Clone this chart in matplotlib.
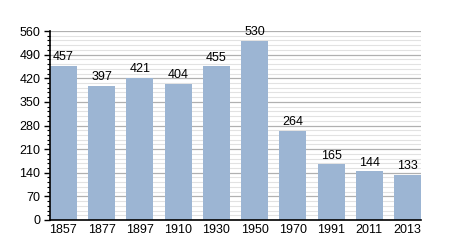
import matplotlib.pyplot as plt
from matplotlib.ticker import MultipleLocator

plt.rcParams["font.family"] = ["Liberation Sans", "DejaVu Sans"]

years = ["1857", "1877", "1897", "1910", "1930", "1950", "1970", "1991", "2011", "2013"]
population = [457, 397, 421, 404, 455, 530, 264, 165, 144, 133]

fig = plt.figure(figsize=(4.5, 2.5), dpi=100)
ax = fig.add_axes([50 / 450, 30 / 250, 371 / 450, 189 / 250])

x = range(len(years))
ax.bar(x, population, width=0.7, color="#9cb5d3", zorder=3)
for i, v in zip(x, population):
    ax.text(i, v + 8, str(v), ha="center", va="bottom", fontsize=9, zorder=4)

ax.set_xlim(-0.35, len(years) - 0.65)
ax.set_ylim(0, 560)
ax.yaxis.set_major_locator(MultipleLocator(70))
ax.yaxis.set_minor_locator(MultipleLocator(14))
ax.grid(axis="y", which="major", color="#b0b0b0", linewidth=0.9, zorder=0)
ax.grid(axis="y", which="minor", color="#e2e2e2", linewidth=0.8, zorder=0)

ax.set_xticks(list(x))
ax.set_xticklabels(years)
ax.tick_params(axis="x", length=0, labelsize=9, pad=3)
ax.tick_params(axis="y", which="major", length=4, width=1, labelsize=9, pad=3)
ax.tick_params(axis="y", which="minor", length=2, width=0.8)

for s in ["top", "right"]:
    ax.spines[s].set_visible(False)
for s in ["left", "bottom"]:
    ax.spines[s].set_linewidth(1.2)
    ax.spines[s].set_zorder(5)

fig.savefig("out.png", dpi=100)
